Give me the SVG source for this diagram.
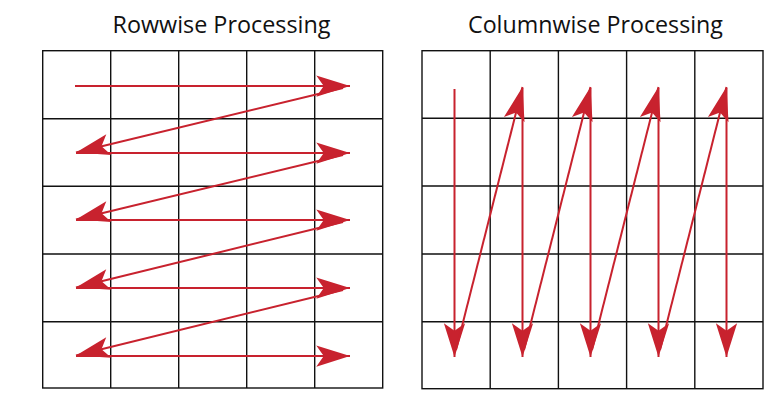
<svg xmlns="http://www.w3.org/2000/svg" width="783" height="406" viewBox="0 0 783 406">
<defs>
<style>
.title{font-family:"Open Sans","Liberation Sans",sans-serif;font-size:23px;fill:#111}
.grid{fill:none;stroke:#111;stroke-width:1.4}
.arr{stroke:#c8222e;stroke-width:2;fill:none;marker-end:url(#ah)}
</style>
<marker id="ah" markerUnits="userSpaceOnUse" markerWidth="40" markerHeight="30" viewBox="-30 -10 32 20" refX="0" refY="0" orient="auto">
<path d="M0,0 L-27,-8.5 L-21,0 L-27,8.5 Z" fill="#c8222e"/>
</marker>
</defs>
<rect width="783" height="406" fill="#fff"/>
<g id="title-rowwise"><text class="title" x="112.5" y="33" textLength="218" lengthAdjust="spacingAndGlyphs">Rowwise Processing</text></g>
<g id="title-columnwise"><text class="title" x="468" y="33" textLength="255" lengthAdjust="spacingAndGlyphs">Columnwise Processing</text></g>
<g id="grid-rowwise">
<rect class="grid" x="42.7" y="50.7" width="340" height="337.3"/>
<path class="grid" d="M110.7,50.7V388M178.7,50.7V388M246.7,50.7V388M314.7,50.7V388M42.7,118.7H382.7M42.7,186.3H382.7M42.7,254H382.7M42.7,321.7H382.7"/>
</g>
<g id="grid-columnwise">
<rect class="grid" x="422" y="50.7" width="341" height="338"/>
<path class="grid" d="M490.2,50.7V388.7M558.4,50.7V388.7M626.6,50.7V388.7M694.8,50.7V388.7M422,118.3H763M422,186H763M422,254H763M422,321.7H763"/>
</g>
<g id="connectors">
<line class="arr" x1="75" y1="86" x2="350" y2="86"/>
<line class="arr" x1="343" y1="88" x2="76" y2="152.5"/>
<line class="arr" x1="76" y1="153" x2="350" y2="153"/>
<line class="arr" x1="343" y1="155" x2="76" y2="219.5"/>
<line class="arr" x1="76" y1="220" x2="350" y2="220"/>
<line class="arr" x1="343" y1="222" x2="76" y2="287.5"/>
<line class="arr" x1="76" y1="288" x2="350" y2="288"/>
<line class="arr" x1="343" y1="290" x2="76" y2="355.5"/>
<line class="arr" x1="76" y1="356" x2="350" y2="356"/>
<line class="arr" x1="454.5" y1="89" x2="454.5" y2="357"/>
<line class="arr" x1="456" y1="350" x2="522.5" y2="87"/>
<line class="arr" x1="522.5" y1="88" x2="522.5" y2="357"/>
<line class="arr" x1="524" y1="350" x2="590.5" y2="87"/>
<line class="arr" x1="590.5" y1="88" x2="590.5" y2="357"/>
<line class="arr" x1="592" y1="350" x2="658.5" y2="87"/>
<line class="arr" x1="658.5" y1="88" x2="658.5" y2="357"/>
<line class="arr" x1="660" y1="350" x2="726.5" y2="87"/>
<line class="arr" x1="726.5" y1="88" x2="726.5" y2="357"/>
</g>
</svg>
